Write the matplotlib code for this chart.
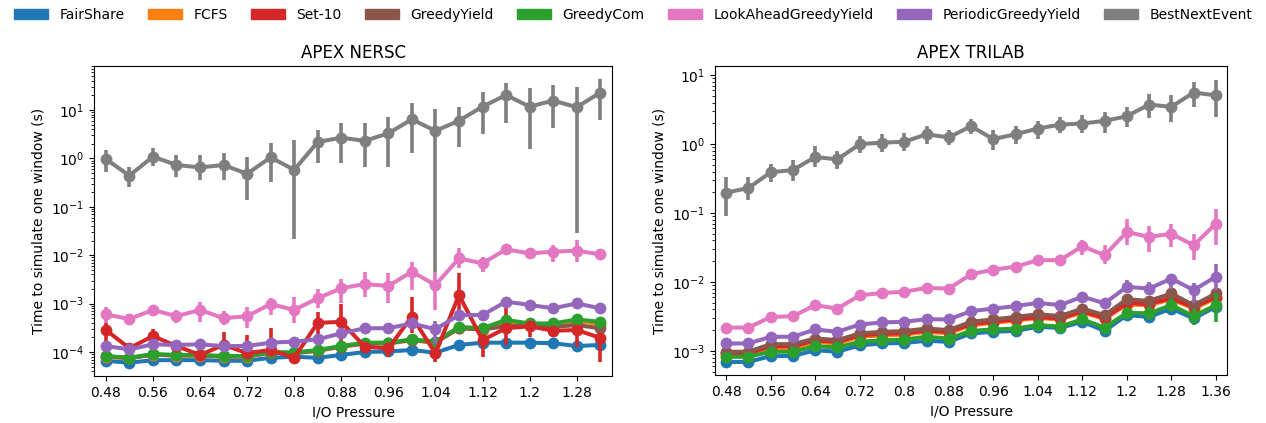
import matplotlib
matplotlib.use("Agg")
import matplotlib.pyplot as plt
from matplotlib.patches import Patch

# I/O pressure categories
pressure_nersc = ["0.48", "0.52", "0.56", "0.6", "0.64", "0.68", "0.72", "0.76", "0.8", "0.84", "0.88",
                  "0.92", "0.96", "1.0", "1.04", "1.08", "1.12", "1.16", "1.2", "1.24", "1.28", "1.32"]
pressure_trilab = ["0.48", "0.52", "0.56", "0.6", "0.64", "0.68", "0.72", "0.76", "0.8", "0.84", "0.88",
                   "0.92", "0.96", "1.0", "1.04", "1.08", "1.12", "1.16", "1.2", "1.24", "1.28", "1.32", "1.36"]

names = ["FairShare", "FCFS", "Set-10", "GreedyYield", "GreedyCom",
         "LookAheadGreedyYield", "PeriodicGreedyYield", "BestNextEvent"]
colors = ["#1f77b4", "#ff7f0e", "#d62728", "#8c564b", "#2ca02c",
          "#e377c2", "#9467bd", "#7f7f7f"]

# ---- APEX NERSC ----
fair_l = [6.6e-5, 6.0e-5, 6.8e-5, 6.8e-5, 6.8e-5, 6.6e-5, 6.6e-5, 7.6e-5, 8.0e-5, 7.6e-5, 8.7e-5,
          1.0e-4, 1.03e-4, 1.1e-4, 9.7e-5, 1.4e-4, 1.56e-4, 1.56e-4, 1.56e-4, 1.52e-4, 1.33e-4, 1.4e-4]
fcfs_l = [8.0e-5, 7.4e-5, 8.8e-5, 8.4e-5, 8.4e-5, 8.0e-5, 8.0e-5, 9.6e-5, 9.4e-5, 1.06e-4, 1.28e-4,
          1.5e-4, 1.5e-4, 1.75e-4, 1.55e-4, 3.1e-4, 2.9e-4, 4.2e-4, 3.6e-4, 3.6e-4, 4.3e-4, 3.8e-4]
set10_l = [2.85e-4, 1.2e-4, 2.14e-4, 1.33e-4, 8.7e-5, 1.4e-4, 9.5e-5, 1.1e-4, 7.6e-5, 4.0e-4, 4.2e-4,
           1.29e-4, 1.19e-4, 5.4e-4, 9.4e-5, 1.5e-3, 1.77e-4, 3.1e-4, 3.4e-4, 2.75e-4, 2.85e-4, 1.97e-4]
set10_l_lo = [1.1e-4, 1.0e-4, 1.5e-4, 1.0e-4, 7.5e-5, 8e-5, 7e-5, 8e-5, 6.5e-5, 1.6e-4, 1.3e-4,
              1.0e-4, 8e-5, 2.5e-4, 6.3e-5, 5e-4, 7.9e-5, 1.4e-4, 2e-4, 2.1e-4, 1.3e-4, 6.3e-5]
set10_l_hi = [3.9e-4, 1.4e-4, 2.95e-4, 1.6e-4, 1.0e-4, 2.6e-4, 2.2e-4, 3.2e-4, 1.0e-4, 6.8e-4, 1e-3,
              1.6e-4, 1.6e-4, 1.4e-3, 1.2e-4, 4.3e-3, 2.5e-4, 8e-4, 4.5e-4, 3.8e-4, 4.5e-4, 2.9e-4]
greedy_l = [8.1e-5, 7.5e-5, 8.9e-5, 8.5e-5, 8.5e-5, 8.1e-5, 8.1e-5, 9.7e-5, 9.5e-5, 1.07e-4, 1.3e-4,
            1.5e-4, 1.52e-4, 1.78e-4, 1.58e-4, 3.1e-4, 2.95e-4, 3.4e-4, 3.6e-4, 3.3e-4, 3.6e-4, 3.1e-4]
com_l = [8.3e-5, 7.6e-5, 9.1e-5, 8.7e-5, 8.7e-5, 8.3e-5, 8.3e-5, 1.0e-4, 9.8e-5, 1.1e-4, 1.33e-4,
         1.56e-4, 1.56e-4, 1.83e-4, 1.64e-4, 3.3e-4, 3.1e-4, 4.6e-4, 3.9e-4, 3.9e-4, 4.7e-4, 4.2e-4]
look_l = [6.0e-4, 4.8e-4, 7.4e-4, 5.5e-4, 7.4e-4, 5.0e-4, 5.5e-4, 9.8e-4, 7.4e-4, 1.29e-3, 2.07e-3,
          2.54e-3, 2.31e-3, 4.57e-3, 2.42e-3, 8.6e-3, 6.8e-3, 1.32e-2, 1.09e-2, 1.18e-2, 1.24e-2, 1.04e-2]
look_l_lo = [3.9e-4, 3.9e-4, 5.5e-4, 3.9e-4, 4.2e-4, 3.6e-4, 3.1e-4, 5.8e-4, 3.9e-4, 8.0e-4, 1.01e-3,
             1.35e-3, 1.01e-3, 1.9e-3, 7.4e-4, 5.4e-3, 4.57e-3, 1.06e-2, 8.6e-3, 7.3e-3, 7.3e-3, 8.6e-3]
look_l_hi = [8.65e-4, 5.8e-4, 9.35e-4, 7.4e-4, 1.1e-3, 7.1e-4, 8.65e-4, 1.29e-3, 1.39e-3, 1.97e-3, 3.3e-3,
             4.57e-3, 4.2e-3, 7.3e-3, 4.57e-3, 1.39e-2, 9.3e-3, 1.63e-2, 1.39e-2, 1.63e-2, 2.06e-2, 1.28e-2]
periodic_l = [1.33e-4, 1.13e-4, 1.44e-4, 1.40e-4, 1.44e-4, 1.33e-4, 1.33e-4, 1.56e-4, 1.64e-4, 1.83e-4, 2.43e-4,
              3.1e-4, 3.1e-4, 3.9e-4, 2.95e-4, 5.8e-4, 5.8e-4, 1.1e-3, 9.4e-4, 8.0e-4, 1.01e-3, 8.0e-4]
periodic_l_lo = [1.2e-4, 1.0e-4, 1.3e-4, 1.25e-4, 1.3e-4, 1.2e-4, 1.2e-4, 1.4e-4, 1.45e-4, 1.6e-4, 2.1e-4,
                 2.6e-4, 2.6e-4, 3.2e-4, 1.5e-4, 4.8e-4, 4.9e-4, 9.0e-4, 8.2e-4, 6.9e-4, 8.6e-4, 7.2e-4]
periodic_l_hi = [1.5e-4, 1.27e-4, 1.6e-4, 1.56e-4, 1.6e-4, 1.5e-4, 1.5e-4, 1.75e-4, 1.85e-4, 2.1e-4, 2.8e-4,
                 3.6e-4, 3.6e-4, 4.6e-4, 4.3e-4, 6.8e-4, 6.8e-4, 1.3e-3, 1.08e-3, 9.2e-4, 1.16e-3, 8.9e-4]
best_l = [0.97, 0.44, 1.09, 0.73, 0.65, 0.73, 0.48, 1.05, 0.58, 2.18, 2.68,
          2.3, 3.3, 6.4, 3.7, 6.0, 11.7, 20.4, 11.7, 15.6, 11.4, 22.8]
best_l_lo = [0.52, 0.26, 0.70, 0.41, 0.35, 0.35, 0.14, 0.33, 0.022, 0.79, 0.79,
             0.65, 0.67, 1.31, 0.0046, 1.7, 3.2, 5.3, 1.54, 4.2, 0.029, 6.2]
best_l_hi = [1.49, 0.65, 1.6, 1.17, 1.17, 1.27, 1.09, 2.05, 2.4, 3.9, 5.3,
             5.3, 7.0, 13.7, 10.3, 11.7, 24.0, 35.5, 28.0, 33.0, 30.0, 43.0]

# ---- APEX TRILAB ----
fair_r = [6.9e-4, 6.9e-4, 8.4e-4, 8.4e-4, 1.02e-3, 9.7e-4, 1.2e-3, 1.28e-3, 1.3e-3, 1.4e-3, 1.35e-3, 1.79e-3,
          1.89e-3, 1.95e-3, 2.23e-3, 2.15e-3, 2.64e-3, 1.95e-3, 3.3e-3, 3.1e-3, 4.1e-3, 2.95e-3, 4.35e-3]
fcfs_r = [8.8e-4, 8.8e-4, 1.1e-3, 1.1e-3, 1.35e-3, 1.28e-3, 1.6e-3, 1.68e-3, 1.72e-3, 1.88e-3, 1.8e-3, 2.35e-3,
          2.55e-3, 2.75e-3, 3.0e-3, 2.85e-3, 3.6e-3, 2.9e-3, 4.7e-3, 4.6e-3, 5.6e-3, 4.1e-3, 5.8e-3]
set10_r = [9.2e-4, 9.2e-4, 1.17e-3, 1.17e-3, 1.42e-3, 1.35e-3, 1.68e-3, 1.76e-3, 1.8e-3, 1.97e-3, 1.88e-3, 2.45e-3,
           2.65e-3, 2.85e-3, 3.1e-3, 2.95e-3, 3.75e-3, 3.0e-3, 4.9e-3, 4.8e-3, 5.8e-3, 4.3e-3, 6.0e-3]
greedy_r = [9.7e-4, 9.7e-4, 1.25e-3, 1.25e-3, 1.51e-3, 1.43e-3, 1.79e-3, 1.89e-3, 1.93e-3, 2.11e-3, 2.0e-3, 2.64e-3,
            2.86e-3, 3.1e-3, 3.4e-3, 3.2e-3, 4.1e-3, 3.3e-3, 5.6e-3, 5.3e-3, 6.8e-3, 4.6e-3, 6.8e-3]
com_r = [8.2e-4, 8.2e-4, 9.7e-4, 9.7e-4, 1.17e-3, 1.12e-3, 1.35e-3, 1.43e-3, 1.46e-3, 1.6e-3, 1.51e-3, 1.95e-3,
         2.04e-3, 2.1e-3, 2.36e-3, 2.25e-3, 2.86e-3, 2.18e-3, 3.56e-3, 3.5e-3, 4.6e-3, 3.2e-3, 4.6e-3]
com_r_lo = [7.6e-4, 7.6e-4, 9.0e-4, 9.0e-4, 1.08e-3, 1.03e-3, 1.25e-3, 1.33e-3, 1.35e-3, 1.48e-3, 1.4e-3, 1.8e-3,
            1.88e-3, 1.94e-3, 2.18e-3, 2.08e-3, 2.6e-3, 1.95e-3, 2.9e-3, 2.8e-3, 3.6e-3, 2.4e-3, 2.64e-3]
com_r_hi = [8.8e-4, 8.8e-4, 1.05e-3, 1.05e-3, 1.26e-3, 1.21e-3, 1.46e-3, 1.54e-3, 1.58e-3, 1.73e-3, 1.63e-3, 2.1e-3,
            2.2e-3, 2.27e-3, 2.55e-3, 2.43e-3, 3.1e-3, 2.4e-3, 4.3e-3, 4.3e-3, 5.8e-3, 4.0e-3, 6.8e-3]
look_r = [2.18e-3, 2.17e-3, 3.1e-3, 3.18e-3, 4.6e-3, 4.1e-3, 6.4e-3, 6.9e-3, 7.2e-3, 8.2e-3, 8.0e-3, 1.29e-2,
          1.51e-2, 1.66e-2, 2.07e-2, 2.07e-2, 3.3e-2, 2.44e-2, 5.3e-2, 4.5e-2, 5.0e-2, 3.4e-2, 7.0e-2]
look_r_lo = [2.0e-3, 2.0e-3, 2.85e-3, 2.9e-3, 4.1e-3, 3.7e-3, 5.8e-3, 6.2e-3, 6.5e-3, 7.3e-3, 7.2e-3, 1.15e-2,
             1.35e-2, 1.48e-2, 1.8e-2, 1.8e-2, 2.44e-2, 1.81e-2, 3.4e-2, 2.74e-2, 3.16e-2, 2.11e-2, 3.4e-2]
look_r_hi = [2.38e-3, 2.37e-3, 3.4e-3, 3.5e-3, 5.2e-3, 4.6e-3, 7.1e-3, 7.6e-3, 8.0e-3, 9.2e-3, 8.9e-3, 1.45e-2,
             1.7e-2, 1.87e-2, 2.4e-2, 2.4e-2, 4.0e-2, 3.4e-2, 8.1e-2, 6.4e-2, 7.0e-2, 4.9e-2, 0.116]
periodic_r = [1.28e-3, 1.28e-3, 1.6e-3, 1.6e-3, 2.04e-3, 1.89e-3, 2.41e-3, 2.58e-3, 2.64e-3, 2.88e-3, 2.85e-3, 3.77e-3,
              4.1e-3, 4.45e-3, 4.97e-3, 4.6e-3, 6.1e-3, 4.9e-3, 8.5e-3, 8.0e-3, 1.12e-2, 7.6e-3, 1.19e-2]
periodic_r_lo = [1.18e-3, 1.18e-3, 1.48e-3, 1.48e-3, 1.88e-3, 1.74e-3, 2.22e-3, 2.38e-3, 2.43e-3, 2.65e-3, 2.62e-3, 3.45e-3,
                 3.75e-3, 4.05e-3, 4.5e-3, 4.1e-3, 5.3e-3, 4.1e-3, 6.9e-3, 6.6e-3, 8.0e-3, 5.0e-3, 7.6e-3]
periodic_r_hi = [1.39e-3, 1.39e-3, 1.73e-3, 1.73e-3, 2.21e-3, 2.05e-3, 2.6e-3, 2.79e-3, 2.86e-3, 3.12e-3, 3.09e-3, 4.1e-3,
                 4.45e-3, 4.85e-3, 5.45e-3, 5.1e-3, 6.9e-3, 5.7e-3, 1.05e-2, 1.0e-2, 1.3e-2, 9.8e-3, 1.81e-2]
best_r = [0.198, 0.23, 0.39, 0.42, 0.65, 0.60, 1.0, 1.05, 1.08, 1.39, 1.25, 1.82,
          1.18, 1.39, 1.68, 1.92, 1.99, 2.17, 2.54, 3.75, 3.47, 5.6, 5.1]
best_r_lo = [0.09, 0.153, 0.283, 0.293, 0.468, 0.428, 0.746, 0.773, 0.80, 1.02, 0.96, 1.39,
             0.817, 1.02, 1.2, 1.43, 1.46, 1.46, 1.78, 2.43, 2.1, 3.47, 2.48]
best_r_hi = [0.335, 0.335, 0.51, 0.585, 0.93, 0.80, 1.30, 1.39, 1.43, 1.82, 1.59, 2.35,
             1.59, 1.82, 2.17, 2.48, 2.63, 2.94, 3.47, 5.4, 5.1, 8.0, 8.6]

nersc = [(fair_l, None, None), (fcfs_l, None, None), (set10_l, set10_l_lo, set10_l_hi),
         (greedy_l, None, None), (com_l, None, None), (look_l, look_l_lo, look_l_hi),
         (periodic_l, periodic_l_lo, periodic_l_hi), (best_l, best_l_lo, best_l_hi)]
trilab = [(fair_r, None, None), (fcfs_r, None, None), (set10_r, None, None),
          (greedy_r, None, None), (com_r, com_r_lo, com_r_hi), (look_r, look_r_lo, look_r_hi),
          (periodic_r, periodic_r_lo, periodic_r_hi), (best_r, best_r_lo, best_r_hi)]


def draw(ax, cats, series, title, ylim):
    x = list(range(len(cats)))
    for (vals, lo, hi), c in zip(series, colors):
        if lo is not None:
            yerr = [[v - l for v, l in zip(vals, lo)], [h - v for v, h in zip(vals, hi)]]
            ax.errorbar(x, vals, yerr=yerr, color=c, fmt="o-", ms=8.5, mew=0, lw=2.9,
                        elinewidth=2.6, capsize=0)
        else:
            ax.plot(x, vals, "o-", color=c, ms=8.5, mew=0, lw=2.9)
    ax.set_yscale("log")
    ax.set_ylim(*ylim)
    ax.set_xlim(-0.5, len(cats) - 0.5)
    ax.set_xticks(x[::2])
    ax.set_xticklabels(cats[::2])
    ax.set_xlabel("I/O Pressure", fontsize=10)
    ax.set_ylabel("Time to simulate one window (s)", fontsize=10)
    ax.set_title(title, fontsize=12)


fig = plt.figure(figsize=(12.66, 4.23), dpi=100)
ax1 = fig.add_axes([0.0743, 0.111, 0.4091, 0.733])
ax2 = fig.add_axes([0.5648, 0.113, 0.4044, 0.731])
draw(ax1, pressure_nersc, nersc, "APEX NERSC", (3.19e-5, 81))
draw(ax2, pressure_trilab, trilab, "APEX TRILAB", (4.43e-4, 13.6))

handles = [Patch(color=c, label=n) for n, c in zip(names, colors)]
fig.legend(handles=handles, loc="center", bbox_to_anchor=(0.5, 0.965), ncol=8,
           frameon=False, fontsize=10, handlelength=2.5, columnspacing=1.65)

fig.savefig("out.png", dpi=100)
